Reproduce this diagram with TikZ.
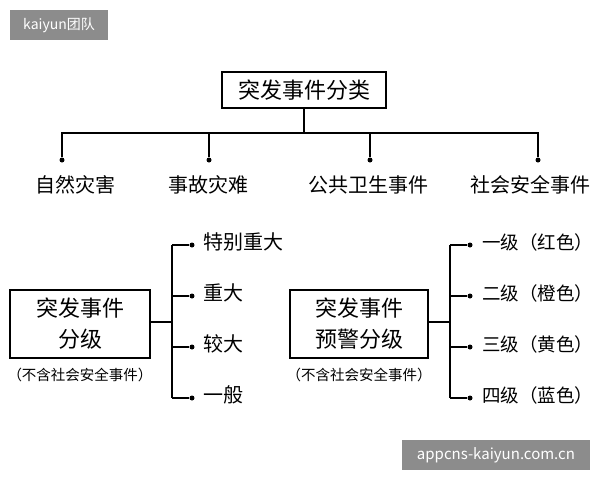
\documentclass[tikz,border=0pt]{standalone}
\usepackage{fontspec}
\setmainfont{Noto Sans CJK SC}
\begin{document}
\begin{tikzpicture}[x=1pt,y=-1pt,
  box/.style={draw,line width=1.6pt,inner sep=0pt,align=center},
  lab/.style={font=\fontsize{20}{22}\selectfont,inner sep=0pt},
  ln/.style={line width=1.3pt},
  dot/.style={circle,fill=black,inner sep=0pt,minimum size=5pt}]
\useasboundingbox (0,0) rectangle (600,480);
\node[fill=black!45,text=white,minimum width=98,minimum height=30,inner sep=0pt,font=\fontsize{14}{16}\selectfont] (wm1) at (59,25) {kaiyun团队};
\node[fill=black!45,text=white,minimum width=188,minimum height=30,inner sep=0pt,font=\fontsize{15}{17}\selectfont] (wm2) at (496,455) {appcns-kaiyun.com.cn};
% top
\node[box,minimum width=164,minimum height=36,font=\fontsize{22}{24}\selectfont] (top) at (304,90) {突发事件分类};
\coordinate (h) at (304,133);
\draw[ln] (top.south) -- (h);
\foreach \x/\t/\lx [count=\i] in {62/自然灾害/75,209/事故灾难/208,370/公共卫生事件/368,538/社会安全事件/530}{
  \node[dot] (d\i) at (\x,160) {};
  \node[lab] (c\i) at (\lx,185) {\t};
}
\draw[ln] (d1) -- (62,133) -- (538,133) -- (d4);
\draw[ln] (d2) -- (209,133);
\draw[ln] (d3) -- (370,133);
% left
\node[box,minimum width=140,minimum height=68,font=\fontsize{22}{31}\selectfont] (lb) at (80,324) {突发事件\\分级};
\node[lab,font=\fontsize{14.5}{16}\selectfont] (ln1) at (80,375) {（不含社会安全事件）};
\coordinate (lj) at (172,322);
\draw[ln] (lb.east|-lj) -- (lj);
\foreach \y/\t [count=\i] in {245/特别重大,296/重大,347/较大,398/一般}{
  \node[dot] (ld\i) at (192,\y) {};
  \node[lab,anchor=west] (ll\i) at (203,\y-3) {\t};
  \draw[ln] (172,\y) -- (ld\i);
}
\draw[ln] (172,245) -- (172,398);
% right
\node[box,minimum width=138,minimum height=68,font=\fontsize{22}{31}\selectfont] (rb) at (359,324) {突发事件\\预警分级};
\node[lab,font=\fontsize{14.5}{16}\selectfont] (rn1) at (359,375) {（不含社会安全事件）};
\coordinate (rj) at (450,322);
\draw[ln] (rb.east|-rj) -- (rj);
\foreach \y/\t [count=\i] in {245/一级（红色）,296/二级（橙色）,347/三级（黄色）,398/四级（蓝色）}{
  \node[dot] (rd\i) at (470,\y) {};
  \node[lab,anchor=west,font=\fontsize{18.5}{21}\selectfont] (rl\i) at (482,\y-3) {\t};
  \draw[ln] (450,\y) -- (rd\i);
}
\draw[ln] (450,245) -- (450,398);
\end{tikzpicture}
\end{document}
